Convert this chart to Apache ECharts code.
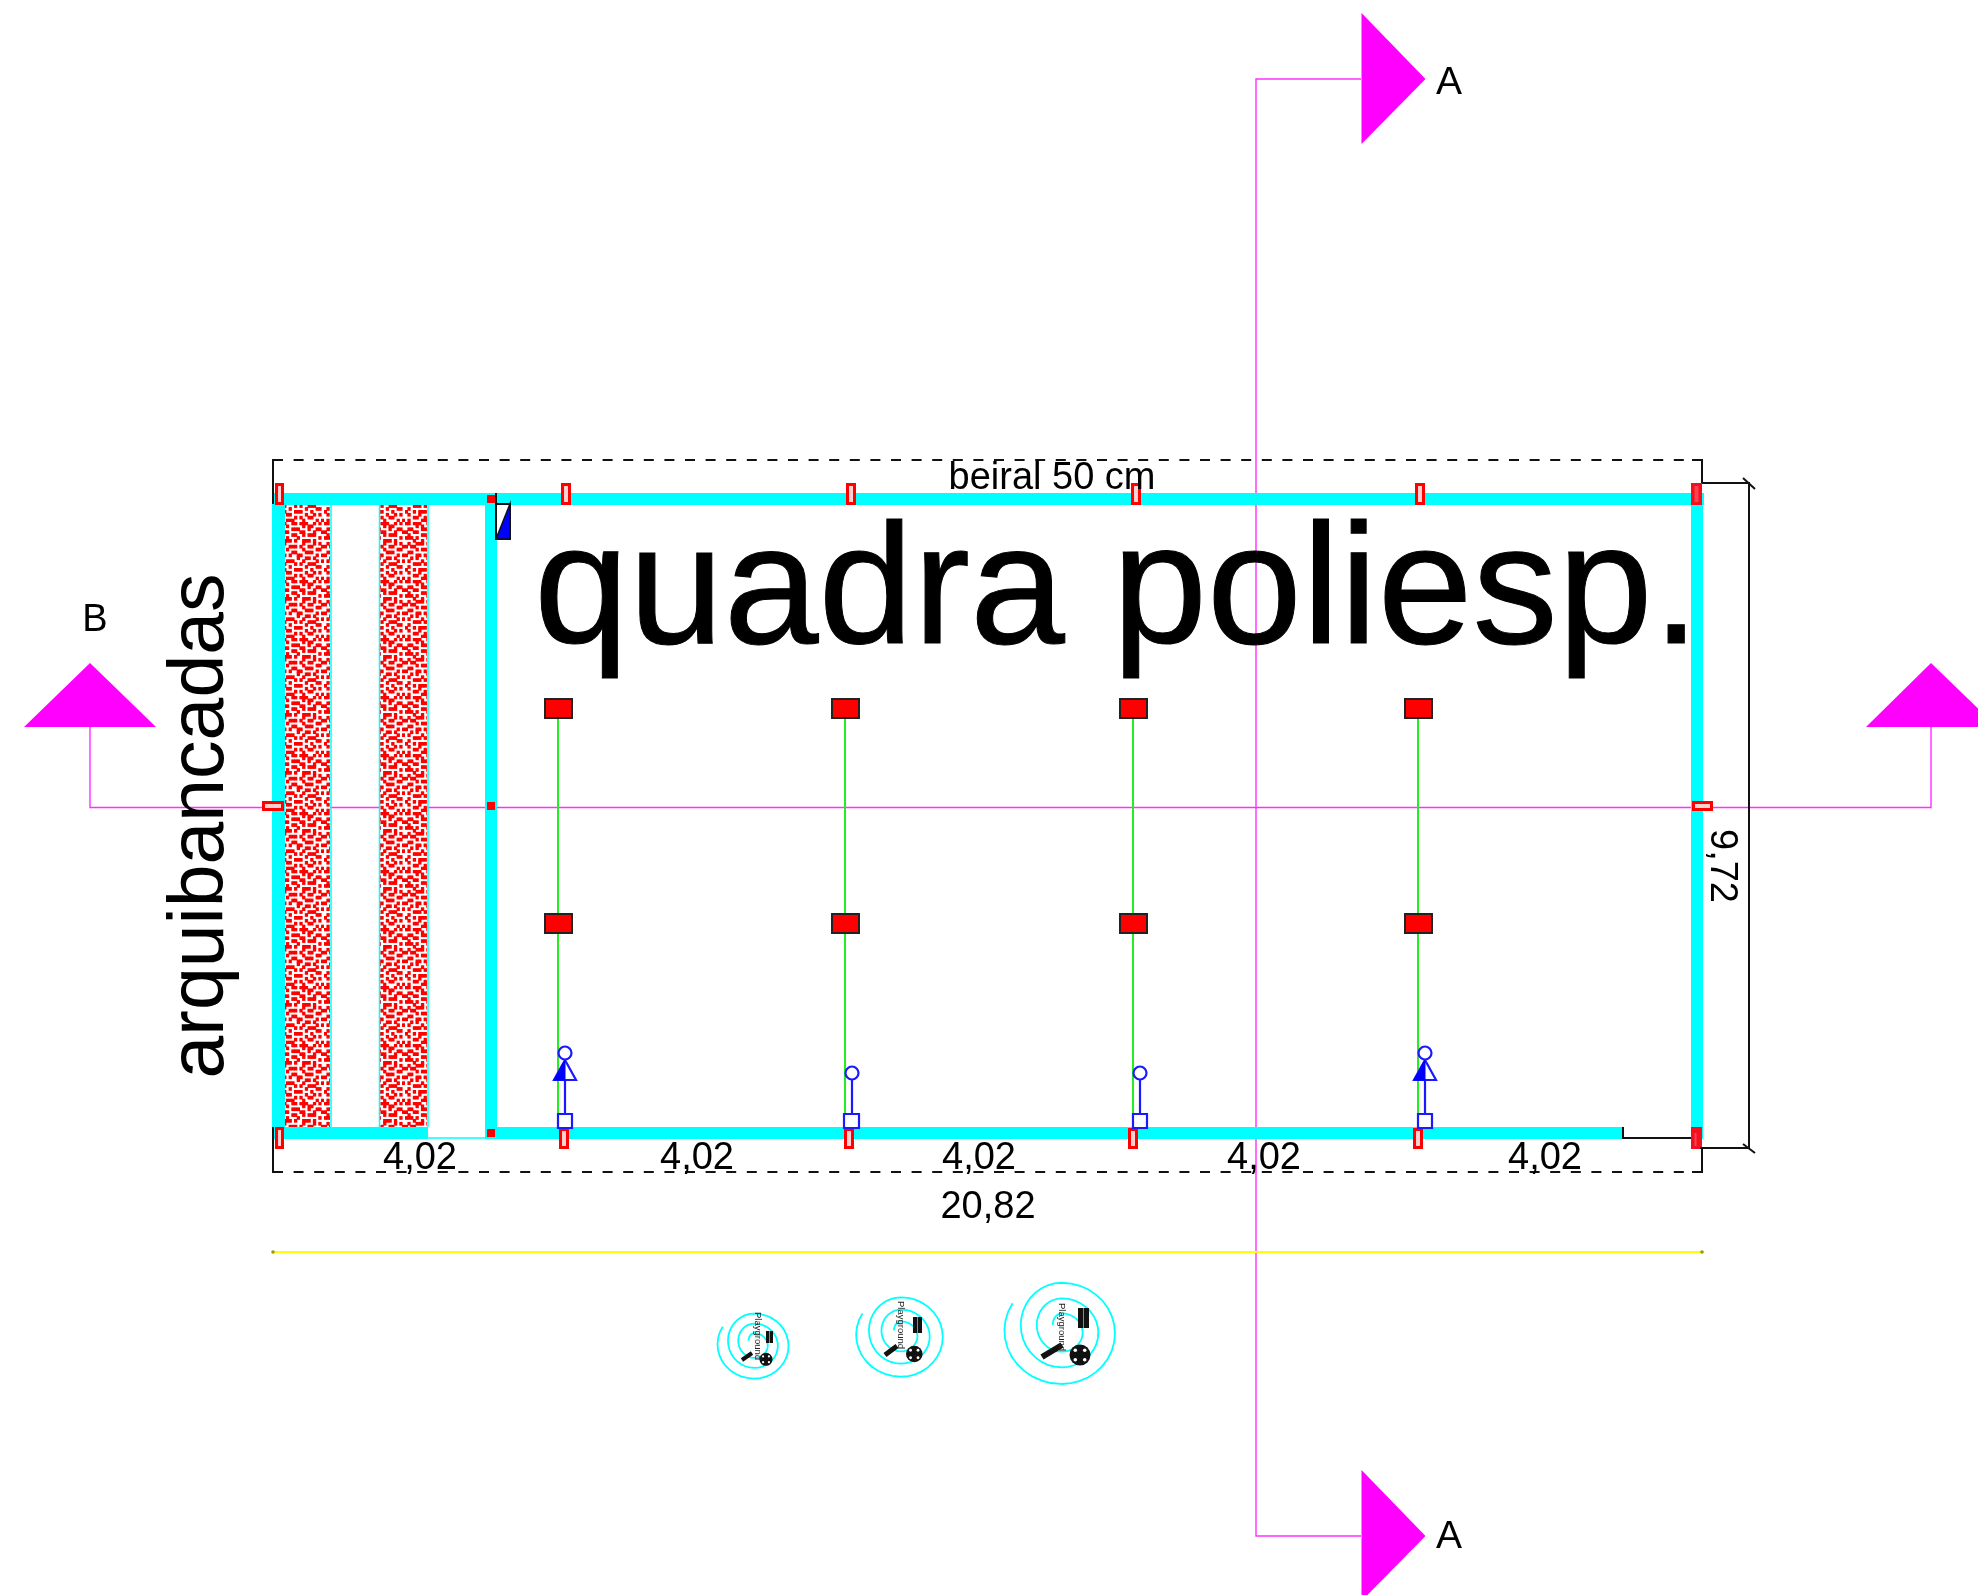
<!DOCTYPE html>
<html><head><meta charset="utf-8">
<style>html,body{margin:0;padding:0;background:#fff}#c{width:1978px;height:1595px}</style>
<script src="https://cdn.jsdelivr.net/npm/echarts@6/dist/echarts.min.js"></script>
</head><body><div id="c"></div>
<script>
// ---- drawing data, in drawing units (1 unit = 1 picture px), y downward ----
const sectionLines = [
  [[1361,79],[1256,79],[1256,1536],[1361,1536]],
  [[90,727],[90,807.5],[1931,807.5],[1931,727]]
];
const sectionArrows = [
  [[1361.5,13],[1425.5,79],[1361.5,144]],
  [[1361.5,1470],[1425.5,1536],[1361.5,1601]],
  [[90,663],[156,727],[24,727]],
  [[1931,663],[1997,727],[1866,727]]
];
const roofEdge = [[273,460],[1702,460]];
const roofEdgeBottom = [[273,1172],[1702,1172]];
const blackLines = [
  [[273,504],[273,460],[283,460]],
  [[273,1127],[273,1172],[283,1172]],
  [[1692,460],[1702,460],[1702,483]],
  [[1692,1172],[1702,1172],[1702,1148]],
  [[1702,483],[1749,483],[1749,1148],[1700,1148]],
  [[1743,478],[1755,489]],
  [[1743,1144],[1755,1153]],
  [[1623,1127],[1623,1138],[1691,1138]],
  [[496,493],[496,539]]
];
const hatchBands = [[285,505,330,1127],[380,505,427,1127]];
const hatchEdges = [
  [[331,505],[331,1127]],
  [[379.5,505],[379.5,1127]],
  [[428,505],[428,1127]],
  [[428,1138],[485,1138]]
];
const walls = [
  [272,493,1704,505],
  [272,493,285,1139],
  [485,493,497,1139],
  [1691,493,1703,1139],
  [285,1127,428,1139],
  [485,1127,1623,1139]
];
const trusses = [
  [[558,719],[558,1127]],
  [[845,719],[845,1127]],
  [[1133,719],[1133,1127]],
  [[1418,719],[1418,1127]]
];
const pads = [
  [544,698,573,719],[831,698,860,719],[1119,698,1148,719],[1404,698,1433,719],
  [544,913,573,934],[831,913,860,934],[1119,913,1148,934],[1404,913,1433,934]
];
const hollowPosts = [
  [275,483,284,505],[561,483,571,505],[846,483,856,505],[1131,483,1141,505],[1415,483,1425,505],
  [262,801,284,811],[1692,801,1713,811],
  [275,1127,284,1149],[559,1128,569,1149],[844,1128,854,1149],[1128,1128,1138,1149],[1413,1128,1423,1149]
];
const solidPosts = [[487,495,495,503],[487,802,495,810],[487,1129,495,1137]];
const cornerPosts = [[1691,483,1702,505],[1691,1127,1702,1149]];
const cornerGlints = [[1694.5,486,1698.5,502],[1694.5,1133,1696.5,1146]];
const figureSquares = [[558,1114,572,1128],[844,1114,859,1128],[1133,1114,1147,1128],[1418,1114,1432,1128]];
const figureStems = [
  [[565,1114],[565,1080]],[[852,1114],[852,1079]],[[1140,1114],[1140,1079]],[[1425,1114],[1425,1080]]
];
const figureHeads = [[565,1053,6.5],[852,1073,6.5],[1140,1073,6.5],[1425,1053,6.5]];
const figureDresses = [
  [[565,1060],[576,1080],[554,1080]],
  [[1425,1060],[1436,1080],[1414,1080]]
];
const figureHalves = [
  [[565,1060],[565,1080],[554,1080]],
  [[1425,1060],[1425,1080],[1414,1080]]
];
const doorFrame = [496,504,510,539];
const doorLeaf = [[510,504],[510,539],[496,539]];
const yellowLine = [[273,1252],[1702,1252]];
const yellowEnds = [[273,1252,1.8],[1702,1252,1.8]];
const spiralArcs = [
  [-3,172,160,211,90],
  [5,160,152,90,-90],
  [-20,123,127,270,90],
  [3.5,110,103.5,90,-90],
  [-20,75,80,270,90],
  [2.5,63,57.5,90,-90],
  [-20,27,35,270,180]
];
const playCenters = [[754.3,1345,0.214],[901,1335.7,0.261],[1061.7,1331.7,0.333]];
const playTexts = [[757.7,1336],[900.7,1325],[1061.7,1327]];
const playWheels = [[766,1359.3,6.5],[914.3,1354,8.3],[1080,1355,10.5]];
const playBlocks = [[766,1331,773,1343],[913,1317,922,1333],[1078,1308,1089,1328]];
const playSwings = [[[742,1360],[752,1353]],[[885,1355],[897,1346]],[[1042,1357],[1062,1345]]];
const swingWidths = [4,5,6];
const labels = [
  ['quadra poliesp.',1117,596,170.5,0,1],
  ['arquibancadas',202,826,77,90,0],
  ['beiral 50 cm',1052,479,38,0,0],
  ['4,02',420,1159,38,0,0],['4,02',697,1159,38,0,0],['4,02',979,1159,38,0,0],['4,02',1264,1159,38,0,0],['4,02',1545,1159,38,0,0],
  ['20,82',988,1208,38,0,0],
  ['9,72',1721,866,38,-90,0],
  ['A',1449,83,39,0,0],['A',1449,1537,39,0,0],['B',95,621,38,0,0]
];
const hatchTile = [
  '##.###..##.#.###..##.###..#.#.',
  '....#.#....#....#.....#.##....',
  '.##...###.#..##...###...#..##.',
  '#..##....#.##..##....##...#..#',
  '.#....##......#...##..#.###...',
  '###.#...###.#...#...#.......#.',
  '...#..#.....##.###.#..###.#...',
  '.#..###.##.....#......#...#.#.',
  '#.##......#.###..###.#..##...#',
  '....#.###.#.....#.....#....##.',
  '.##.......##.##...##...###....',
  '#...##.#.......#.#..##.....#.#',
  '..#.#...###.#.#.....#..##.#...',
  '.#....#.....#...###...#....#.#',
  '...###.##.#...##...#.#..###...',
  '.#........###....#.....#...##.',
  '#..#.###.....#.#...###...#....',
  '.#...#...##.#...##.....#..#.#.',
  '...##..#....#.#....#.#..##....',
  '.#....###.##....###...#....#.#'
];

// ---- rendering ----
const tile = document.createElement('canvas');
const cw = 2.7, ch = 2.9;
tile.width = Math.round(hatchTile[0].length * cw);
tile.height = Math.round(hatchTile.length * ch);
const tc = tile.getContext('2d');
tc.fillStyle = '#fff'; tc.fillRect(0,0,tile.width,tile.height);
tc.fillStyle = '#ff0000';
hatchTile.forEach((row,r)=>[...row].forEach((k,c)=>{ if(k==='#') tc.fillRect(c*cw-0.3,r*ch-0.4,cw+0.6,ch+0.8); }));

function layer(items, build){
  return {type:'custom', coordinateSystem:'cartesian2d', silent:true, clip:false, animation:false,
    data: items.map((_,i)=>[i,i]),
    renderItem:(p,api)=>build(items[p.dataIndex],api,p.dataIndex)};
}
const rectsOf = (items, style, inset=0) => layer(items,(r,api)=>{
  const a=api.coord([r[0],r[1]]), b=api.coord([r[2],r[3]]);
  return {type:'rect',shape:{x:a[0]+inset,y:a[1]+inset,width:b[0]-a[0]-2*inset,height:b[1]-a[1]-2*inset},style};
});
const linesOf = (items, stroke, lineWidth, extra={}) => layer(items,(pts,api,i)=>({
  type:'polyline',shape:{points:pts.map(q=>api.coord(q))},
  style:{stroke,lineWidth:Array.isArray(lineWidth)?lineWidth[i]:lineWidth,fill:null,lineDash:extra.dash||null}
}));
const polysOf = (items, style) => layer(items,(pts,api)=>({type:'polygon',shape:{points:pts.map(q=>api.coord(q))},style}));
const circlesOf = (items, style) => layer(items,(c,api)=>{
  const o=api.coord([c[0],c[1]]);
  return {type:'circle',shape:{cx:o[0],cy:o[1],r:c[2]},style};
});
const textsOf = (items) => layer(items,(t,api)=>{
  const o=api.coord([t[1],t[2]]);
  return {type:'text',x:o[0],y:o[1],rotation:t[4]*Math.PI/180,style:{text:t[0],fill:t[6]||'#000',
    stroke:t[5]?'#000':null,lineWidth:t[5]||0,
    font:t[3]+'px "Liberation Sans", Arial, sans-serif',align:'center',verticalAlign:'middle'}};
});
const spirals = playCenters.map(c=>{
  const pts=[];
  spiralArcs.forEach(a=>{
    const step=a[4]>a[3]?10:-10;
    for(let d=a[3];(step>0?d<=a[4]:d>=a[4]);d+=step){
      pts.push([c[0]+a[1]*Math.cos(d*Math.PI/180)*c[2], c[1]+(a[0]+a[2]*Math.sin(d*Math.PI/180))*c[2]]);
    }
  });
  return pts;
});
const wheelHoles = [];
playWheels.forEach(w=>{ const d=w[2]*0.45, r=w[2]*0.17;
  [[-1,-1],[1,-1],[-1,1],[1,1]].forEach(s=>wheelHoles.push([w[0]+s[0]*d,w[1]+s[1]*d,r])); });
const blockStripes = playBlocks.map(b=>[[(b[0]+b[2])/2,b[1]],[(b[0]+b[2])/2,b[3]]]);
const playLabels = playTexts.map(t=>['Playground',t[0],t[1],9.5,-90,0,'#222']);

const chart = echarts.init(document.getElementById('c'),null,{renderer:'canvas'});
chart.setOption({
  animation:false, backgroundColor:'#fff', tooltip:{show:false}, legend:{show:false},
  grid:{left:0,right:0,top:0,bottom:0,containLabel:false},
  xAxis:{type:'value',min:0,max:1978,show:false},
  yAxis:{type:'value',min:0,max:1595,inverse:true,show:false},
  series:[
    linesOf(sectionLines,'#ff30ff',1.4),
    polysOf(sectionArrows,{fill:'#ff00ff'}),
    rectsOf(hatchBands,{fill:{image:tile,repeat:'repeat'}}),
    linesOf(hatchEdges,'#00ffff',1.5),
    linesOf([yellowLine],'#ffff00',2),
    circlesOf(yellowEnds,{fill:'#999900'}),
    rectsOf(walls,{fill:'#00ffff'}),
    linesOf(trusses,'#22ee22',2),
    rectsOf(pads,{fill:'#ff0000',stroke:'#222',lineWidth:2},1),
    rectsOf(hollowPosts,{fill:'#ffd0d0',stroke:'#ff0000',lineWidth:3},1.5),
    rectsOf(solidPosts,{fill:'#ff0000'}),
    rectsOf(cornerPosts,{fill:'#f01020'}),
    rectsOf(cornerGlints,{fill:'#ff4050'}),
    linesOf([roofEdge,roofEdgeBottom],'#111',2,{dash:[10,10.6]}),
    linesOf(blackLines,'#111',2),
    linesOf(figureStems,'#1a1aff',2.2),
    polysOf(figureDresses,{fill:'#fff',stroke:'#1a1aff',lineWidth:2.2}),
    polysOf(figureHalves,{fill:'#0000ff',stroke:'#0000ff',lineWidth:1}),
    circlesOf(figureHeads,{fill:'#fff',stroke:'#1a1aff',lineWidth:2.2}),
    rectsOf(figureSquares,{fill:'#fff',stroke:'#1a1aff',lineWidth:2.2}),
    rectsOf([doorFrame],{fill:'#fff',stroke:'#111',lineWidth:2}),
    polysOf([doorLeaf],{fill:'#0000ff',stroke:'#111',lineWidth:1.5}),
    linesOf(spirals,'#00ffff',1.8),
    rectsOf(playBlocks,{fill:'#111'}),
    linesOf(blockStripes,'#888',1),
    circlesOf(playWheels,{fill:'#111'}),
    circlesOf(wheelHoles,{fill:'#fff'}),
    linesOf(playSwings,'#111',swingWidths),
    textsOf(playLabels),
    textsOf(labels)
  ]
});
</script></body></html>
